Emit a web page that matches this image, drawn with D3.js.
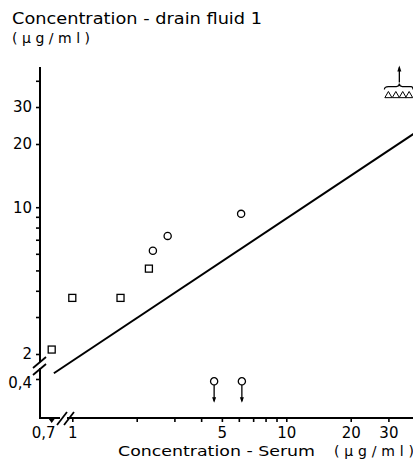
<!DOCTYPE html>
<html>
<head>
<meta charset="utf-8">
<script src="https://cdn.jsdelivr.net/npm/d3@7"></script>
<style>
  html, body { margin: 0; padding: 0; background: #fff; }
  svg { display: block; }
  text { font-family: "DejaVu Sans", sans-serif; fill: #000; }
</style>
</head>
<body>
<svg id="chart" width="413" height="460"></svg>
<script>
// ---- data ----
const squareX = [0.7, 1.0, 1.68, 2.28];
const squareY = [2.1, 3.7, 3.7, 5.1];
const circleX = [2.38, 2.79, 6.15];
const circleY = [6.2, 7.3, 9.3];
const belowX = [4.6, 6.2];          // drain fluid below 0.4 (arrows down)
const belowY = [0.39, 0.39];
const aboveX = [30, 32.5, 35, 37.5]; // triangles above range (arrow up)
const aboveY = [34, 34, 34, 34];
const lineX = [0.82, 40];
const lineY = [1.62, 22.6];
const yTicks = [2, 3, 4, 5, 6, 7, 8, 9, 10, 20, 30, 40];
const yLabels = {2: "2", 10: "10", 20: "20", 30: "30"};
const yLowTicks = [0.4];
const yLowLabels = {0.4: "0,4"};
const xTicks = [1, 2, 3, 4, 5, 6, 7, 8, 9, 10, 20, 30];
const xLabels = {1: "1", 5: "5", 10: "10", 20: "20", 30: "30"};
const xBreakValue = 0.7;
const xBreakLabel = "0,7";
const yTitle1 = "Concentration - drain fluid 1";
const yTitle2 = "(µg/ml)";
const xTitle1 = "Concentration - Serum";
const xTitle2 = "(µg/ml)";

// ---- layout ----
const svg = d3.select("#chart");
const axX = 40, axY = 418;
const x = d3.scaleLog().domain([1, 40]).range([72.3, 72.3 + 214 * Math.log10(40)]);
const y = d3.scaleLog().domain([2, 40]).range([354, 354 - 210 * Math.log10(20)]);
const yLow = d3.scaleLog().domain([0.1, 0.4]).range([379 + 210 * Math.log10(4), 379]);
const xBreakPos = x(1) - 20.6;
const xp = v => (v <= xBreakValue ? xBreakPos : x(v));

const ink = "#000";

// axes lines
svg.append("line").attr("x1", axX).attr("x2", axX).attr("y1", 67).attr("y2", axY + 1)
  .attr("stroke", ink).attr("stroke-width", 2);
svg.append("line").attr("x1", axX - 1).attr("x2", 413).attr("y1", axY).attr("y2", axY)
  .attr("stroke", ink).attr("stroke-width", 2);

// y axis (main)
const gy = svg.append("g").attr("transform", `translate(${axX},0)`)
  .call(d3.axisLeft(y).tickValues(yTicks).tickSize(4).tickPadding(4)
    .tickFormat(d => yLabels[d] || ""));
gy.select(".domain").remove();
gy.selectAll(".tick line").attr("stroke", ink).attr("stroke-width", 1.6);
gy.selectAll(".tick text").attr("font-size", 15).attr("font-family", "DejaVu Sans").attr("fill", ink);

// y axis (below break)
const gyl = svg.append("g").attr("transform", `translate(${axX},0)`)
  .call(d3.axisLeft(yLow).tickValues(yLowTicks).tickSize(4).tickPadding(4)
    .tickFormat(d => yLowLabels[d] || ""));
gyl.select(".domain").remove();
gyl.selectAll(".tick line").attr("stroke", ink).attr("stroke-width", 1.6);
gyl.selectAll(".tick text").attr("font-size", 15).attr("font-family", "DejaVu Sans").attr("fill", ink).attr("dy", "0.55em");

// x axis
const gx = svg.append("g").attr("transform", `translate(0,${axY})`)
  .call(d3.axisBottom(x).tickValues(xTicks).tickSize(4).tickPadding(5)
    .tickFormat(d => xLabels[d] || ""));
gx.select(".domain").remove();
gx.selectAll(".tick line").attr("stroke", ink).attr("stroke-width", 1.6);
gx.selectAll(".tick text").attr("font-size", 15).attr("font-family", "DejaVu Sans").attr("fill", ink);

// x break tick 0,7
svg.append("path")
  .attr("d", `M${xBreakPos - 3},${axY} L${xBreakPos},${axY + 4} L${xBreakPos + 3},${axY}`)
  .attr("fill", ink).attr("stroke", ink).attr("stroke-width", 1.2);
svg.append("text").attr("x", xBreakPos - 8).attr("y", axY + 20)
  .attr("text-anchor", "middle").attr("font-size", 15).text(xBreakLabel);

// break marks
const brk = (x1, y1, x2, y2) => svg.append("line").attr("x1", x1).attr("y1", y1)
  .attr("x2", x2).attr("y2", y2).attr("stroke", ink).attr("stroke-width", 1.8);
// x-axis break
svg.append("rect").attr("x", 60).attr("y", axY - 2).attr("width", 7).attr("height", 4).attr("fill", "#fff");
brk(57, axY + 7, 67, axY - 6);
brk(64, axY + 7, 74, axY - 6);
// y-axis break
svg.append("rect").attr("x", axX - 2).attr("y", 362).attr("width", 4).attr("height", 6).attr("fill", "#fff");
brk(33, 368, 46, 357);
brk(33, 375, 46, 364);

// regression line
svg.append("path")
  .datum(lineX.map((d, i) => [d, lineY[i]]))
  .attr("d", d3.line().x(d => x(d[0])).y(d => y(d[1])))
  .attr("fill", "none").attr("stroke", ink).attr("stroke-width", 2);

// squares
const sq = 7;
svg.selectAll("rect.sq").data(squareX.map((d, i) => [d, squareY[i]])).join("rect")
  .attr("class", "sq")
  .attr("x", d => xp(d[0]) - sq / 2).attr("y", d => y(d[1]) - sq / 2)
  .attr("width", sq).attr("height", sq)
  .attr("fill", "#fff").attr("stroke", ink).attr("stroke-width", 1.3);

// circles
svg.selectAll("circle.c").data(circleX.map((d, i) => [d, circleY[i]])).join("circle")
  .attr("class", "c")
  .attr("cx", d => x(d[0])).attr("cy", d => y(d[1])).attr("r", 3.6)
  .attr("fill", "#fff").attr("stroke", ink).attr("stroke-width", 1.3);

// below-limit circles with down arrows
const bl = svg.selectAll("g.bl").data(belowX.map((d, i) => [d, belowY[i]])).join("g")
  .attr("class", "bl")
  .attr("transform", d => `translate(${x(d[0])},${yLow(d[1])})`);
bl.append("line").attr("x1", 0).attr("x2", 0).attr("y1", 3.6).attr("y2", 20)
  .attr("stroke", ink).attr("stroke-width", 1.3);
bl.append("path").attr("d", "M-2,16 L0,21.5 L2,16 Z").attr("fill", ink);
bl.append("circle").attr("r", 3.6).attr("fill", "#fff").attr("stroke", ink).attr("stroke-width", 1.3);

// above-range triangles with brace and up arrow
const tri = d3.symbol().type(d3.symbolTriangle).size(22);
svg.selectAll("path.tri").data(aboveX.map((d, i) => [d, aboveY[i]])).join("path")
  .attr("class", "tri")
  .attr("transform", d => `translate(${x(d[0])},${y(d[1])})`)
  .attr("d", tri).attr("fill", "#fff").attr("stroke", ink).attr("stroke-width", 1);
{
  const bx1 = x(aboveX[0]) - 4, bx2 = 413, bm = x(aboveX[1]) + 3.5;
  const by = y(aboveY[0]) - 9;
  svg.append("path")
    .attr("d", `M${bx1},${by + 3} Q${bx1},${by} ${bx1 + 4},${by} L${bm - 3},${by} Q${bm},${by} ${bm},${by - 3} Q${bm},${by} ${bm + 3},${by} L${bx2 - 2},${by} Q${bx2},${by} ${bx2},${by + 3}`)
    .attr("fill", "none").attr("stroke", ink).attr("stroke-width", 1.2);
  svg.append("line").attr("x1", bm).attr("x2", bm).attr("y1", by - 4).attr("y2", by - 19)
    .attr("stroke", ink).attr("stroke-width", 1.3);
  svg.append("path").attr("d", `M${bm - 2},${by - 15} L${bm},${by - 21} L${bm + 2},${by - 15} Z`).attr("fill", ink);
}

// titles
svg.append("text").attr("x", 12).attr("y", 24).attr("font-size", 15)
  .attr("textLength", 250).attr("lengthAdjust", "spacingAndGlyphs").text(yTitle1);
svg.append("text").attr("x", 12).attr("y", 43).attr("font-size", 14)
  .attr("textLength", 78).attr("lengthAdjust", "spacing").text(yTitle2);
svg.append("text").attr("x", 118).attr("y", 456).attr("font-size", 14)
  .attr("textLength", 197).attr("lengthAdjust", "spacingAndGlyphs").text(xTitle1);
svg.append("text").attr("x", 334).attr("y", 456).attr("font-size", 14)
  .attr("textLength", 80).attr("lengthAdjust", "spacing").text(xTitle2);
</script>
</body>
</html>
